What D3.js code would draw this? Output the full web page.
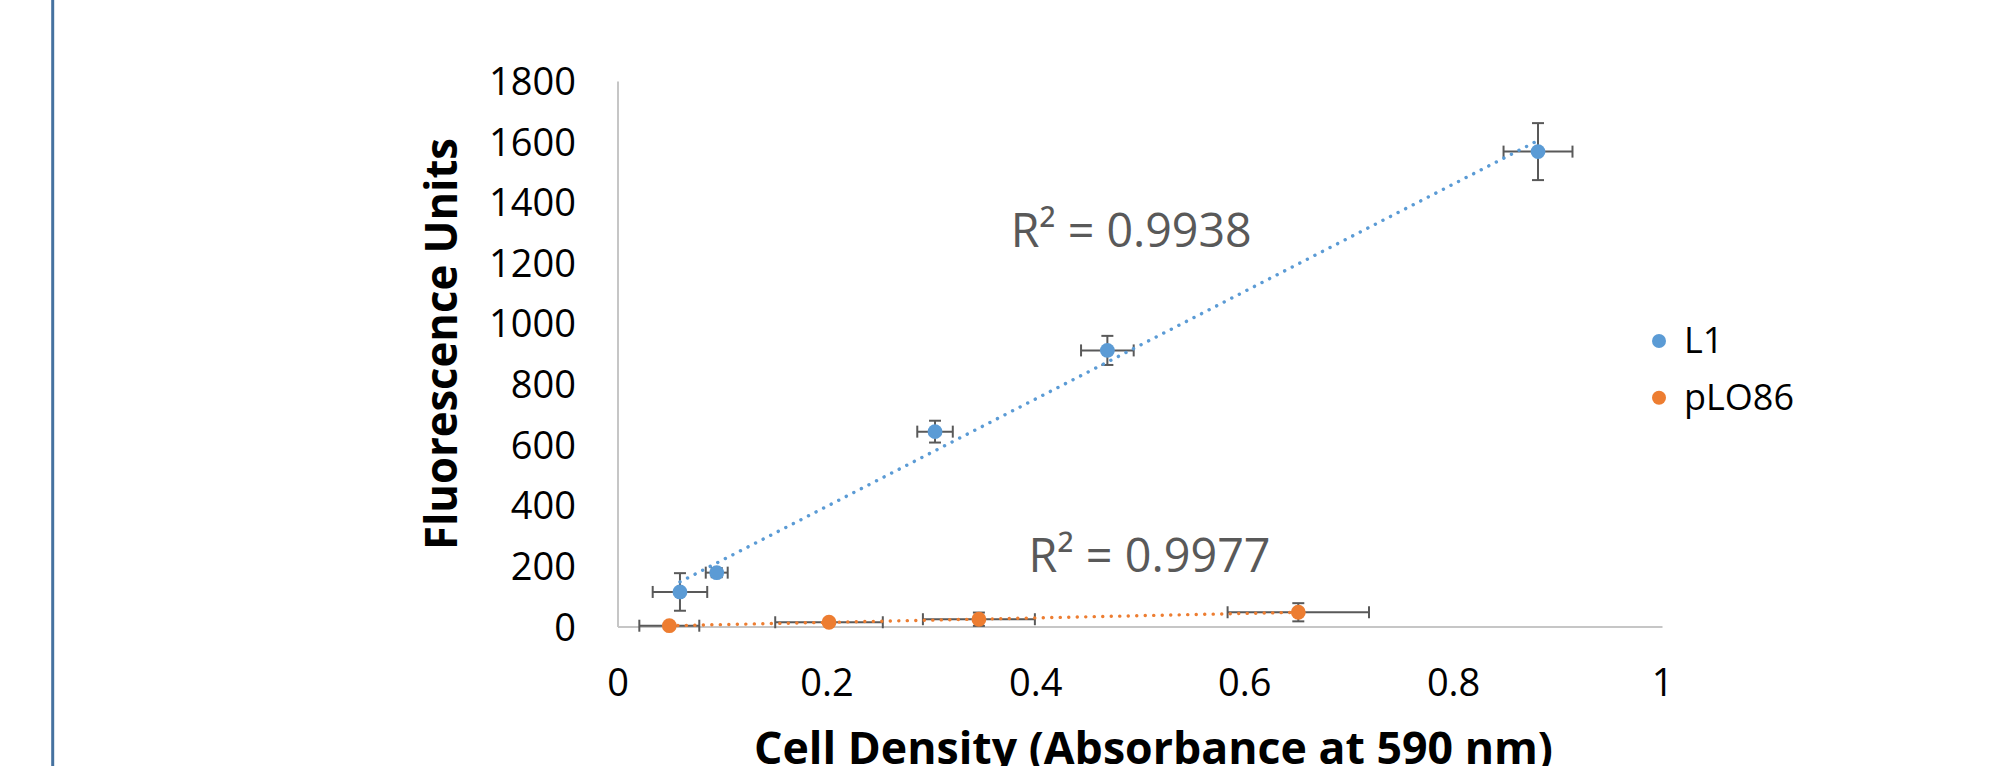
<!DOCTYPE html>
<html>
<head>
<meta charset="utf-8">
<script src="https://cdn.jsdelivr.net/npm/d3@7"></script>
<style>
  html, body { margin: 0; padding: 0; background: #ffffff; }
  svg { display: block; }
</style>
</head>
<body>
<svg id="chart" width="2007" height="766"></svg>
<script>
// ---------- data ----------
const seriesNames = ["L1", "pLO86"];
const seriesColors = ["#5B9BD5", "#ED7D31"];

const l1X    = [0.0598, 0.0950, 0.304, 0.469, 0.8813];
const l1Y    = [114, 177.7, 643, 911, 1567];
const l1XErr = [0.0261, 0.0105, 0.017, 0.0252, 0.033];
const l1YErr = [62, 15, 36, 48, 94];

const pX    = [0.0496, 0.2025, 0.346, 0.6518];
const pY    = [2.6, 14, 24, 47];
const pXErr = [0.0287, 0.0515, 0.0536, 0.0677];
const pYErr = [3, 4, 22, 30];

const r2Labels = ["R² = 0.9938", "R² = 0.9977"];

const xTicks = [0, 0.2, 0.4, 0.6, 0.8, 1];
const xTickLabels = ["0", "0.2", "0.4", "0.6", "0.8", "1"];
const yTicks = [0, 200, 400, 600, 800, 1000, 1200, 1400, 1600, 1800];

const xTitle = "Cell Density (Absorbance at 590 nm)";
const yTitle = "Fluorescence Units";

// ---------- layout ----------
const FONT = "'Open Sans', 'Noto Sans', sans-serif";
const svg = d3.select("#chart");

const x = d3.scaleLinear().domain([0, 1]).range([617.5, 1662]);
const y = d3.scaleLinear().domain([0, 1800]).range([626.5, 81]);

// left page border line
svg.append("line")
  .attr("x1", 52.7).attr("x2", 52.7).attr("y1", 0).attr("y2", 766)
  .attr("stroke", "#4672a0").attr("stroke-width", 3);

// axes
const gx = svg.append("g").attr("transform", `translate(0,${y(0)})`)
  .call(d3.axisBottom(x).tickValues(xTicks).tickSize(0)
    .tickFormat((d, i) => xTickLabels[i]));
gx.select(".domain").attr("stroke", "#c6c6c6").attr("stroke-width", 2);
gx.selectAll("text")
  .attr("y", 696 - y(0)).attr("dy", null)
  .attr("font-family", FONT).attr("font-size", 38).attr("fill", "#000");

const gy = svg.append("g").attr("transform", `translate(${x(0)},0)`)
  .call(d3.axisLeft(y).tickValues(yTicks).tickSize(0).tickFormat(d3.format("d")));
gy.select(".domain").attr("stroke", "#c6c6c6").attr("stroke-width", 2);
gy.selectAll("text")
  .attr("x", 576 - x(0)).attr("dy", null).attr("y", 13.5)
  .attr("text-anchor", "end")
  .attr("font-family", FONT).attr("font-size", 38).attr("fill", "#000");

// axis titles
svg.append("text")
  .attr("transform", `translate(457,344) rotate(-90)`)
  .attr("text-anchor", "middle")
  .attr("font-family", FONT).attr("font-weight", "bold").attr("font-size", 45)
  .attr("textLength", 412).attr("lengthAdjust", "spacingAndGlyphs")
  .attr("fill", "#000")
  .text(yTitle);

svg.append("text")
  .attr("x", 1153.5).attr("y", 764)
  .attr("text-anchor", "middle")
  .attr("font-family", FONT).attr("font-weight", "bold").attr("font-size", 45)
  .attr("textLength", 799).attr("lengthAdjust", "spacingAndGlyphs")
  .attr("fill", "#000")
  .text(xTitle);

// ---------- series ----------
const series = [
  { name: seriesNames[0], color: seriesColors[0], xs: l1X, ys: l1Y, xe: l1XErr, ye: l1YErr },
  { name: seriesNames[1], color: seriesColors[1], xs: pX,  ys: pY,  xe: pXErr,  ye: pYErr }
];

const CAP = 6;
const errColor = "#595959";

series.forEach(s => {
  const pts = s.xs.map((v, i) => ({ x: v, y: s.ys[i], xe: s.xe[i], ye: s.ye[i] }));
  const g = svg.append("g");
  // error bars
  pts.forEach(p => {
    const cx = x(p.x), cy = y(p.y);
    const x0 = x(p.x - p.xe), x1 = x(p.x + p.xe);
    const y0 = y(p.y - p.ye), y1 = y(p.y + p.ye);
    const e = g.append("g").attr("stroke", errColor).attr("stroke-width", 2).attr("fill", "none");
    e.append("line").attr("x1", x0).attr("x2", x1).attr("y1", cy).attr("y2", cy);
    e.append("line").attr("x1", x0).attr("x2", x0).attr("y1", cy - CAP).attr("y2", cy + CAP);
    e.append("line").attr("x1", x1).attr("x2", x1).attr("y1", cy - CAP).attr("y2", cy + CAP);
    e.append("line").attr("x1", cx).attr("x2", cx).attr("y1", y0).attr("y2", y1);
    e.append("line").attr("x1", cx - CAP).attr("x2", cx + CAP).attr("y1", y0).attr("y2", y0);
    e.append("line").attr("x1", cx - CAP).attr("x2", cx + CAP).attr("y1", y1).attr("y2", y1);
  });
  // markers
  g.selectAll("circle").data(pts).join("circle")
    .attr("cx", d => x(d.x)).attr("cy", d => y(d.y)).attr("r", 7.4)
    .attr("fill", s.color);
  // linear trendline (least squares from the data)
  const mx = d3.mean(s.xs), my = d3.mean(s.ys);
  const sxy = d3.sum(s.xs, (v, i) => (v - mx) * (s.ys[i] - my));
  const sxx = d3.sum(s.xs, v => (v - mx) * (v - mx));
  const slope = sxy / sxx, icpt = my - slope * mx;
  const [xmin, xmax] = d3.extent(s.xs);
  const line = d3.line().x(d => x(d)).y(d => y(slope * d + icpt));
  svg.append("path")
    .attr("d", line([xmin, xmax]))
    .attr("fill", "none").attr("stroke", s.color)
    .attr("stroke-width", 3.4).attr("stroke-linecap", "round")
    .attr("stroke-dasharray", "0.1 8.4");
});

// R² labels
svg.append("text")
  .attr("x", 1010.7).attr("y", 246.7)
  .attr("font-family", FONT).attr("font-size", 48).attr("fill", "#595959")
  .attr("textLength", 241).attr("lengthAdjust", "spacingAndGlyphs")
  .text(r2Labels[0]);
svg.append("text")
  .attr("x", 1028.6).attr("y", 572)
  .attr("font-family", FONT).attr("font-size", 47).attr("fill", "#595959")
  .attr("textLength", 242).attr("lengthAdjust", "spacingAndGlyphs")
  .text(r2Labels[1]);

// legend
const legend = svg.append("g");
const legendY = [341, 397.7];
series.forEach((s, i) => {
  legend.append("circle").attr("cx", 1659).attr("cy", legendY[i]).attr("r", 7)
    .attr("fill", s.color);
  legend.append("text").attr("x", 1684).attr("y", legendY[i] + 12)
    .attr("font-family", FONT).attr("font-size", 36).attr("fill", "#000")
    .text(s.name);
});
</script>
</body>
</html>
